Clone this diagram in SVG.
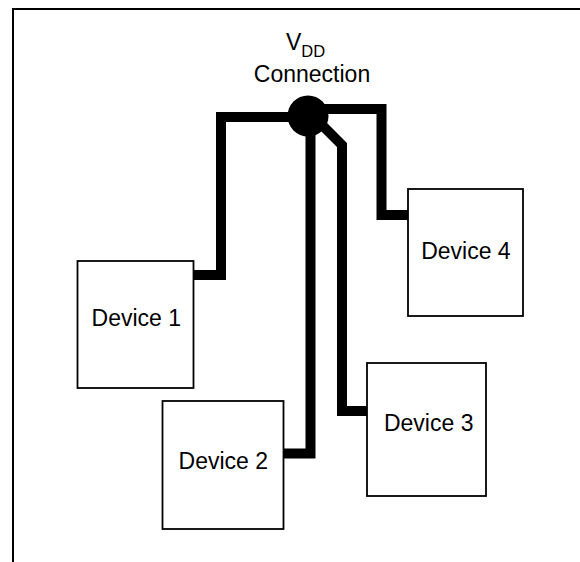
<svg xmlns="http://www.w3.org/2000/svg" width="580" height="562" viewBox="0 0 580 562">
<style>
.frame{fill:none;stroke:#000;stroke-width:2}
.box{fill:#fff;stroke:#000;stroke-width:1.8}
.wire{fill:none;stroke:#000;stroke-width:10;stroke-linejoin:miter;stroke-linecap:butt}
.lbl{font-family:"Liberation Sans",Arial,sans-serif;font-size:23px;fill:#000;text-anchor:middle}
</style>
<rect width="580" height="562" fill="#fff"/>
<path class="frame" d="M13,562 V9 H580"/>
<g id="connectors">
<path class="wire" d="M193,275 H221 V117 H300"/>
<path class="wire" d="M308,109 H381.5 V215 H408"/>
<path class="wire" d="M310.5,116 V453.5 H283"/>
<path class="wire" d="M306,109 L342,145 V411 H367"/>
</g>
<g id="vdd">
<circle cx="308" cy="116" r="20.5" fill="#000"/>
<text x="286" y="49.5" font-family="Liberation Sans, Arial, sans-serif" font-size="23">V<tspan font-size="16.5" dy="7">DD</tspan></text>
<text class="lbl" x="312" y="81.5">Connection</text>
</g>
<g id="device1">
<rect class="box" x="77.5" y="261" width="116" height="127"/>
<text class="lbl" x="136.3" y="326">Device 1</text>
</g>
<g id="device2">
<rect class="box" x="162.5" y="401" width="121" height="128"/>
<text class="lbl" x="223.3" y="469">Device 2</text>
</g>
<g id="device3">
<rect class="box" x="367" y="363" width="119" height="133"/>
<text class="lbl" x="428.7" y="430.7">Device 3</text>
</g>
<g id="device4">
<rect class="box" x="408" y="189" width="115" height="127"/>
<text class="lbl" x="465.9" y="259">Device 4</text>
</g>
</svg>
